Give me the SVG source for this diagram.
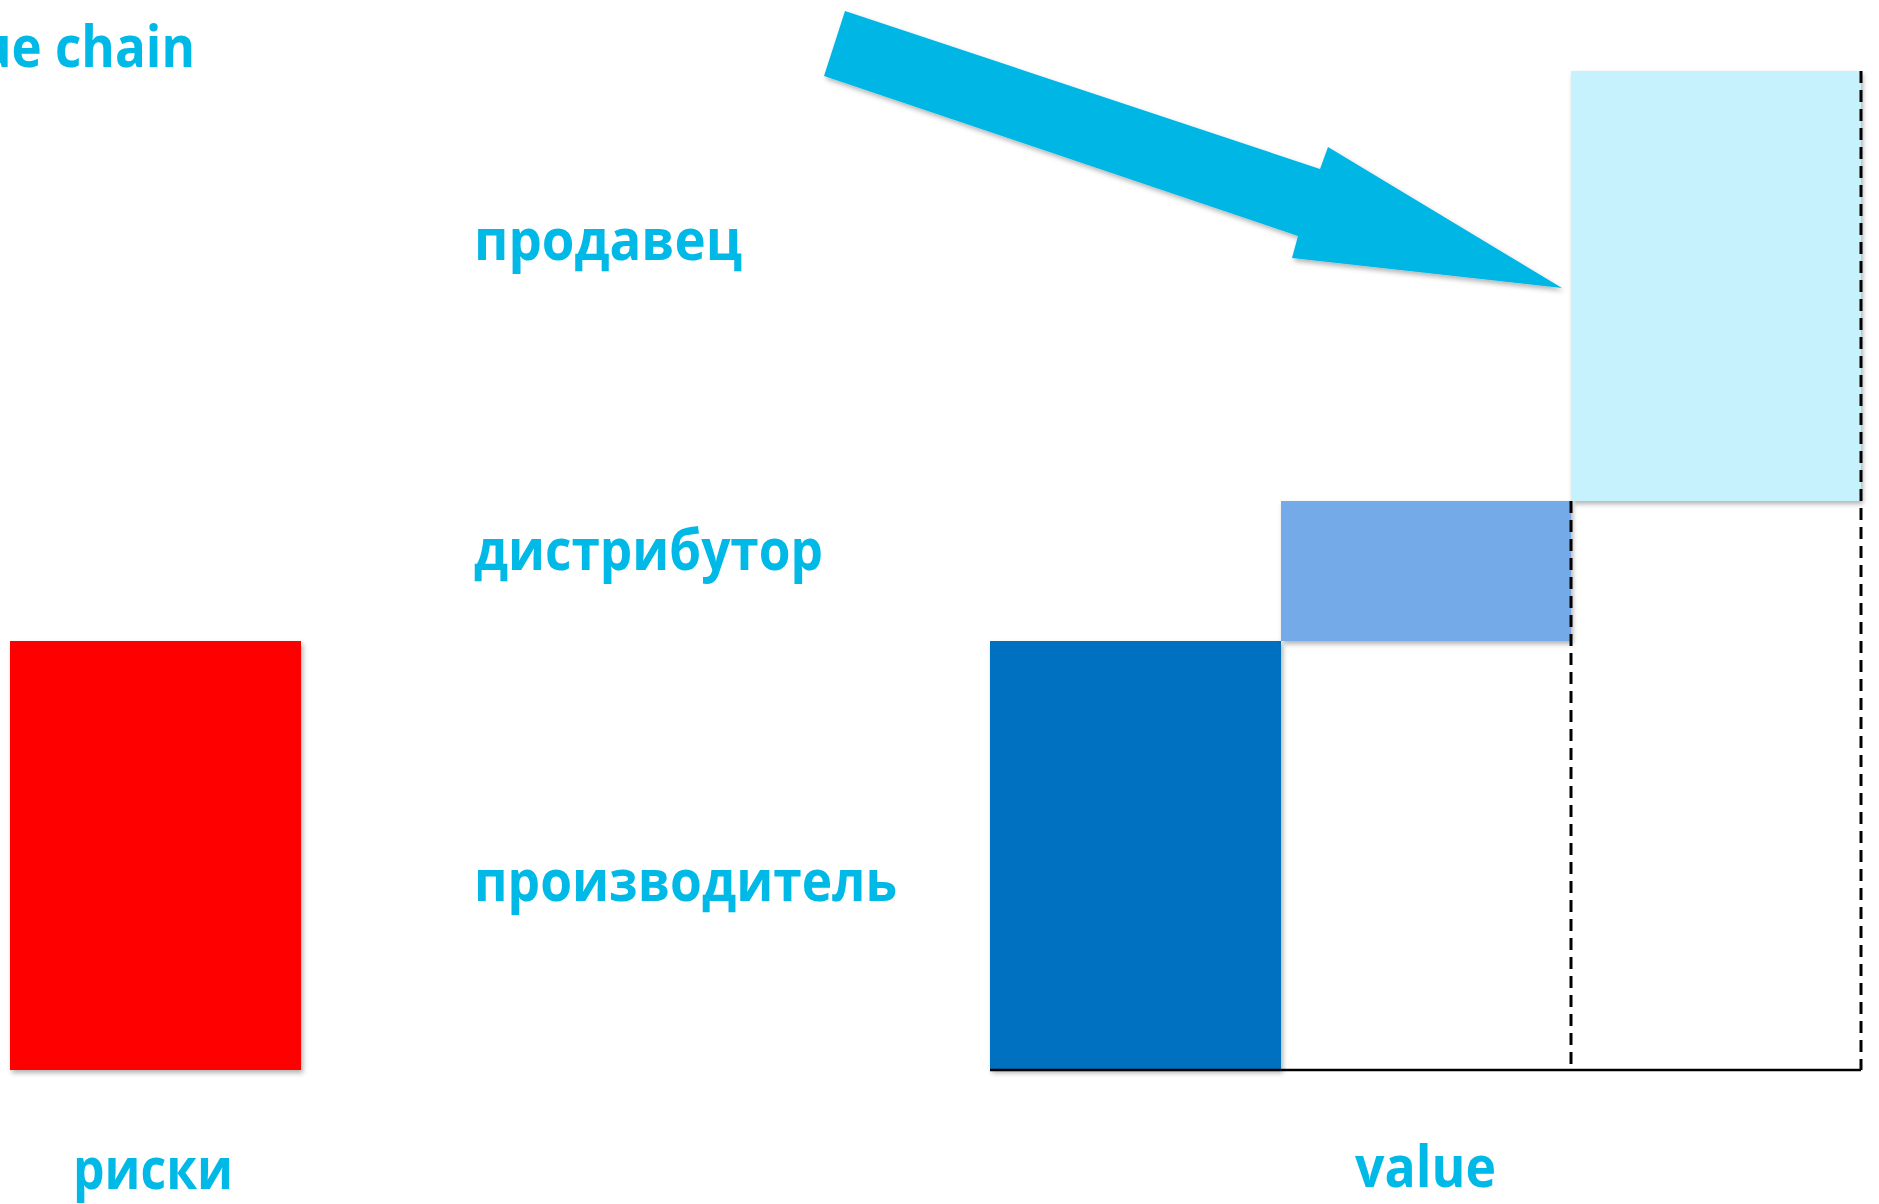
<svg xmlns="http://www.w3.org/2000/svg" width="1879" height="1204" viewBox="0 0 1879 1204">
<defs>
<filter id="sh" x="-10%" y="-10%" width="130%" height="130%">
<feDropShadow dx="2" dy="3" stdDeviation="2.5" flood-color="#000" flood-opacity="0.3"/>
</filter>
<style>
.lbl{font-family:"Open Sans","Noto Sans","DejaVu Sans",sans-serif;font-weight:700;font-size:57px;fill:#00B9E6}
.dash{stroke:#000;stroke-width:3;stroke-dasharray:12 7;fill:none}
.axis{stroke:#000;stroke-width:2.5;fill:none}
</style>
</defs>
<rect width="1879" height="1204" fill="#fff"/>
<g id="title"><text class="lbl" x="-22" y="67" textLength="217" lengthAdjust="spacingAndGlyphs">ue chain</text></g>
<g id="risk-bar"><rect x="10" y="641" width="291" height="429" fill="#FF0000" filter="url(#sh)"/></g>
<g id="producer-bar"><rect x="990" y="641" width="291" height="429" fill="#0070C0" filter="url(#sh)"/></g>
<g id="distributor-bar"><rect x="1281" y="501" width="290" height="140" fill="#75AAE8" filter="url(#sh)"/></g>
<g id="seller-bar"><rect x="1571" y="71" width="290" height="430" fill="#C5F2FD" filter="url(#sh)"/></g>
<g id="connectors">
<line class="dash" x1="1571" y1="501" x2="1571" y2="1070"/>
<line class="dash" x1="1861" y1="71" x2="1861" y2="1070"/>
<line class="axis" x1="990" y1="1070" x2="1861" y2="1070"/>
<polygon points="845,11 1320,169 1328,147 1562,288 1292,258 1298,236 824,76" fill="#00B6E4" filter="url(#sh)"/>
</g>
<g id="label-seller"><text class="lbl" x="474" y="260" textLength="268" lengthAdjust="spacingAndGlyphs">продавец</text></g>
<g id="label-distributor"><text class="lbl" x="474" y="570" textLength="349" lengthAdjust="spacingAndGlyphs">дистрибутор</text></g>
<g id="label-producer"><text class="lbl" x="474" y="901" textLength="423" lengthAdjust="spacingAndGlyphs">производитель</text></g>
<g id="label-risks"><text class="lbl" x="73" y="1189" textLength="160" lengthAdjust="spacingAndGlyphs">риски</text></g>
<g id="label-value"><text class="lbl" x="1355" y="1187" textLength="141" lengthAdjust="spacingAndGlyphs">value</text></g>
</svg>
